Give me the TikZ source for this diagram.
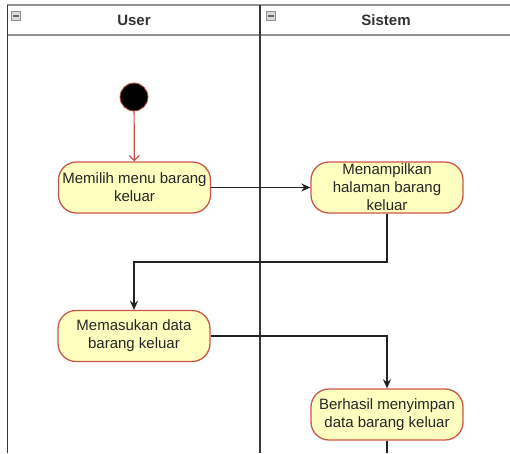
\documentclass[tikz,border=0pt]{standalone}
\usepackage{fontspec}
\setmainfont{Liberation Sans}
\usetikzlibrary{arrows.meta}
\definecolor{actfill}{HTML}{FFFFC0}
\definecolor{actline}{RGB}{205,85,75}
\definecolor{laneline}{RGB}{55,55,55}
\definecolor{headline}{RGB}{145,145,145}
\definecolor{flowline}{RGB}{35,35,35}
\begin{document}
\begin{tikzpicture}[x=1pt,y=-1pt,
  action/.style={draw=actline, fill=actfill, line width=1.3pt, rounded corners=18pt,
    minimum width=152pt, minimum height=51pt, inner sep=0pt, align=center,
    font=\fontsize{15}{18}\selectfont, text=black!85},
  flow/.style={draw=flowline, line width=1.4pt, -{Stealth[length=9pt,width=8pt]}},
  startflow/.style={draw=actline, line width=1.2pt, -{Straight Barb[length=5pt,width=10pt]}},
  lanetitle/.style={font=\fontsize{15}{18}\selectfont\bfseries, text=black!80, inner sep=0pt},
  foldbox/.style={draw=headline, fill=black!15, line width=0.6pt, minimum size=9pt, inner sep=0pt},
]
\useasboundingbox (0,0) rectangle (510,453);
\fill[white] (0,0) rectangle (510,453);

% swimlane frame
\draw[headline, line width=1.8pt] (7,5) -- (510,5);
\draw[headline, line width=1.8pt] (7,35) -- (510,35);
\draw[laneline, line width=1.5pt] (7.5,5) -- (7.5,453);
\draw[laneline, line width=2pt] (260,5) -- (260,453);

% lane headers
\node[foldbox] (foldu) at (16,16) {};
\draw[black!60, line width=1.3pt] ([xshift=-3pt]foldu.center) -- ([xshift=3pt]foldu.center);
\node[foldbox] (folds) at (271,16) {};
\draw[black!60, line width=1.3pt] ([xshift=-3pt]folds.center) -- ([xshift=3pt]folds.center);
\node[lanetitle] (userlane) at (134,20) {User};
\node[lanetitle] (syslane) at (386,20) {Sistem};

% initial state
\node[circle, fill=black, draw=actline, line width=0.8pt, minimum size=28pt, inner sep=0pt] (start) at (134,97) {};

% activities
\node[action] (a1) at (134.5,187.5) {Memilih menu barang\\keluar};
\node[action] (a2) at (387,187.5) {Menampilkan\\halaman barang\\keluar};
\node[action] (a3) at (134,336) {Memasukan data\\barang keluar};
\node[action] (a4) at (387,414.5) {Berhasil menyimpan\\data barang keluar};

% flows
\coordinate (turn1) at (260,262);
\coordinate (cut) at (387,453);
\draw[startflow] (start) -- (a1);
\draw[flow] (a1) -- (a2);
\draw[flow] (a2.south) -- (a2.south |- turn1) -| (a3.north);
\draw[flow] (a3.east) -| (a4.north);
\draw[flowline, line width=1.4pt] (a4.south) -- (cut);
\end{tikzpicture}
\end{document}
